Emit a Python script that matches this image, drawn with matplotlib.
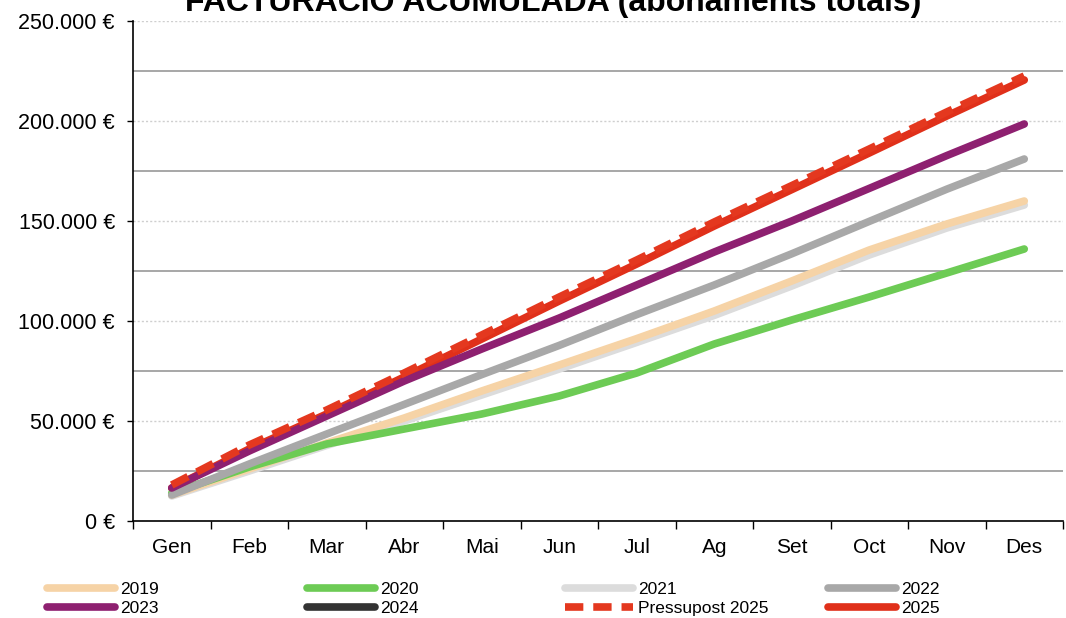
import numpy as np
import matplotlib
matplotlib.use("Agg")
import matplotlib.pyplot as plt
from matplotlib.ticker import FuncFormatter, MultipleLocator

plt.rcParams["font.family"] = ["Liberation Sans", "DejaVu Sans"]

# dades (facturació acumulada, €)
mesos = ["Gen", "Feb", "Mar", "Abr", "Mai", "Jun", "Jul", "Ag", "Set", "Oct", "Nov", "Des"]

any_2019 = [13000, 26000, 39000, 51500, 65000, 78000, 91200, 105000, 120000, 135500, 148500, 160000]
any_2020 = [14000, 27000, 38500, 46000, 53500, 62500, 74000, 88500, 100500, 112000, 124000, 136000]
any_2021 = [12500, 25000, 37800, 50000, 63000, 76000, 89300, 102800, 117500, 133000, 146500, 158000]
any_2022 = [13000, 28500, 43500, 58300, 73200, 87800, 103200, 118000, 133600, 149800, 165900, 181000]
any_2023 = [16500, 35000, 52500, 70000, 86000, 101500, 118000, 134500, 150000, 166300, 182700, 198500]
any_2024 = [np.nan] * 12
pressupost_2025 = [18000, 38000, 55500, 74000, 93000, 112000, 130500, 149500, 167700, 186000, 204500, 222500]
any_2025 = [16500, 36000, 53500, 72000, 91000, 110000, 128500, 147500, 165700, 184000, 202500, 220500]

series = [
    ("2019", any_2019, "#F6D3A6", "-"),
    ("2020", any_2020, "#6DCB55", "-"),
    ("2021", any_2021, "#DCDCDC", "-"),
    ("2022", any_2022, "#A8A8A8", "-"),
    ("2023", any_2023, "#8E2070", "-"),
    ("2024", any_2024, "#333333", "-"),
    ("Pressupost 2025", pressupost_2025, "#E4381F", "--"),
    ("2025", any_2025, "#E0301A", "-"),
]


def format_euros(v, pos):
    return f"{int(round(v)):,}".replace(",", ".") + " €"


fig = plt.figure(figsize=(10.66, 6.18), dpi=100)
ax = fig.add_axes([133 / 1066, 1 - 521 / 618, 930 / 1066, 500 / 618])

x = np.arange(len(mesos))
linies = {}
for nom, valors, color, estil in series:
    if estil == "--":
        (ln,) = ax.plot(x, valors, color=color, lw=5.5, linestyle=(0, (2.4, 1.3)),
                        dash_capstyle="butt", label=nom, zorder=3)
    else:
        (ln,) = ax.plot(x, valors, color=color, lw=5.5, solid_capstyle="round",
                        label=nom, zorder=3)
    linies[nom] = ln
# la línia real del 2025 va per sota del pressupost
linies["2025"].set_zorder(2.9)
# el 2021 queda per sota del 2019
linies["2021"].set_zorder(2.8)

# eixos
ax.set_xlim(-0.5, len(mesos) - 0.5)
ax.set_ylim(0, 250000)
ax.set_xticks(x)
ax.set_xticklabels(mesos)
ax.set_xticks(np.arange(-0.5, len(mesos), 1), minor=True)
ax.tick_params(axis="x", which="major", length=0, pad=12, labelsize=15)
ax.tick_params(axis="x", which="minor", length=6, width=1, direction="out", color="black")

ax.yaxis.set_major_locator(MultipleLocator(50000))
ax.yaxis.set_minor_locator(MultipleLocator(25000))
ax.yaxis.set_major_formatter(FuncFormatter(format_euros))
ax.tick_params(axis="y", which="major", length=4, width=1, direction="out", pad=9, labelsize=15.5)
ax.tick_params(axis="y", which="minor", length=0)

# quadrícula
ax.grid(axis="y", which="major", color="#CFCFCF", lw=1.0, linestyle=(0, (1.5, 1.5)), zorder=0)
ax.grid(axis="y", which="minor", color="#A0A0A0", lw=1.3, linestyle="-", zorder=0)
ax.set_axisbelow(True)

for costat in ["top", "right"]:
    ax.spines[costat].set_visible(False)
for costat in ["left", "bottom"]:
    ax.spines[costat].set_color("black")
    ax.spines[costat].set_linewidth(1.2)

# títol (tallat a la part superior)
fig.text(553 / 1066, 1 - 11 / 618, "FACTURACIÓ ACUMULADA (abonaments totals)",
         ha="center", va="baseline", fontsize=23, fontweight="bold")

# llegenda en quatre columnes
columnes = [
    (["2019", "2023"], 47),
    (["2020", "2024"], 307),
    (["2021", "Pressupost 2025"], 565),
    (["2022", "2025"], 828),
]
for noms, xpix in columnes:
    fig.legend(handles=[linies[n] for n in noms], labels=noms,
               loc="upper left", bbox_to_anchor=(xpix / 1066, 1 - 582 / 618),
               frameon=False, fontsize=12.5, handlelength=3.9, handletextpad=0.3,
               labelspacing=0.22, borderpad=0, borderaxespad=0)

fig.savefig("out.png", dpi=100)
